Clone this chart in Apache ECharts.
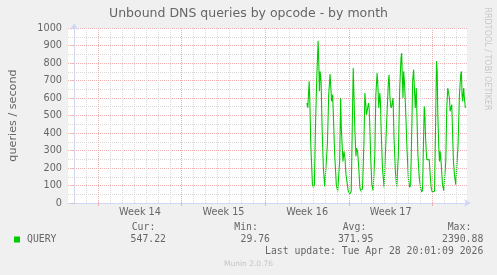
<!DOCTYPE html>
<html><head><meta charset="utf-8">
<script src="https://cdn.jsdelivr.net/npm/echarts@6/dist/echarts.min.js"></script>
<style>html,body{margin:0;padding:0;background:#f0f0f0}#c{width:497px;height:275px}</style>
</head><body><div id="c"></div>
<script>
// ---- data (x unit: days since 2026-03-27 00:00) ----
const titleText = 'Unbound DNS queries by opcode - by month';
const yAxisTitle = 'queries / second';
const seriesName = 'QUERY';
const axisStartDay = -0.525;   // left edge of the graph
const axisEndDay = 32.89;      // right edge of the graph
const dataStartDay = 19;       // 2026-04-15 00:00
const weekLabels = ['Week 14', 'Week 15', 'Week 16', 'Week 17'];
const weekCenterDays = [5.5, 12.5, 19.5, 26.5];
const weekStartDays = [2, 9, 16, 23, 30];
const hoursSinceApr15 = [11.4,13.4,16.1,17.4,19.4,22.7,24.7,26.7,28.7,31.4,34.1,35.4,36.7,38.1,40.1,42.1,44.7,47.4,49.4,52.7,55.4,58.1,60.1,61.4,63.4,64.7,67.4,70.7,73.4,75.4,77.4,79.4,80.7,82.7,84.1,86.1,88.1,90.1,94.7,98.1,100.7,102.7,104.7,106.1,108.1,110.1,111.4,113.4,115.4,118.1,120.7,123.4,126.1,128.1,129.4,131.4,133.4,135.4,136.7,138.1,140.1,142.1,144.7,148.1,150.1,152.7,154.1,156.1,158.1,159.4,160.7,163.4,166.7,171.4,175.4,176.7,178.7,180.7,182.7,184.7,186.7,189.4,192.1,195.4,198.1,200.7,202.1,203.4,204.7,206.1,208.1,210.1,212.7,215.4,218.1,220.1,222.7,224.1,226,229.4,231.4,232.7,234.7,237.4,240.1,242.1,244.1,245.4,247.4,248.7,250.1,251.4,252.7,254.1,255.4,257.4,259.4,261.4,263.4,266.1,268.1,270.1,272.1,273.4,274.7,276.7,278.1,279.4,280.7,282.1,284.1,286.7,288.7,290.7,292.7,294.7,296.7,298.1,299.4,301.4,302.7,304.1,306.1,308.1,310.7,312.7,315.4,318.1,320.7,322.1,323.4,324.7,326.7,328.1,330.1];
const queriesPerSecond = [571,545,695,590,333,105,90,105,428,714,927,810,638,752,695,428,200,95,86,333,619,737,638,581,619,505,276,105,67,76,238,600,428,314,238,295,257,162,67,53,67,428,771,619,410,267,314,295,220,86,67,86,333,629,619,505,495,571,543,428,238,105,70,276,619,743,676,543,629,581,428,200,90,428,695,733,590,543,562,600,371,181,90,276,657,829,857,714,600,752,667,524,314,143,90,105,470,700,762,543,657,505,276,143,86,63,76,276,552,505,371,295,248,248,257,248,162,86,63,57,67,428,810,752,505,314,238,295,257,200,105,70,76,238,543,657,667,600,524,524,562,428,238,162,105,114,333,619,733,752,619,581,657,600,543];
const statHeaders = ['Cur:', 'Min:', 'Avg:', 'Max:'];
const statValues = ['547.22', '29.76', '371.95', '2390.88'];
const lastUpdate = 'Last update: Tue Apr 28 20:01:09 2026';
const versionText = 'Munin 2.0.76';
const watermark = 'RRDTOOL / TOBI OETIKER';

// ---- styling ----
const FONT = '#666666';
const AXIS = '#CFD6F8';
const MAJOR = '#f0b0b0';
const MINOR = '#d8d8d8';
const LINE = '#00cc00';

const seriesData = hoursSinceApr15.map((h, i) => [dataStartDay + h / 24, queriesPerSecond[i]]);

// vertical grid lines: one per day, red on week starts
const vLines = [];
for (let d = Math.ceil(axisStartDay); d <= Math.floor(axisEndDay); d++) {
  const isWeek = weekStartDays.indexOf(d) >= 0;
  vLines.push({ xAxis: d, lineStyle: { color: isWeek ? MAJOR : MINOR, type: 'dotted', width: 1 } });
}

const statHeaderX = [131.7, 234.3, 342.7, 447.7];
const statValueRight = [166, 270, 373.3, 483.3];
const graphics = [];
statHeaders.forEach((t, i) => graphics.push({ type: 'text', x: statHeaderX[i], y: 227.7,
  style: { text: t, font: '9.8px "DejaVu Sans Mono"', fill: FONT, textAlign: 'left', textVerticalAlign: 'middle' } }));
statValues.forEach((t, i) => graphics.push({ type: 'text', x: statValueRight[i], y: 239.5,
  style: { text: t, font: '9.8px "DejaVu Sans Mono"', fill: FONT, textAlign: 'right', textVerticalAlign: 'middle' } }));
graphics.push({ type: 'text', x: 483.3, y: 251.7,
  style: { text: lastUpdate, font: '9.8px "DejaVu Sans Mono"', fill: FONT, textAlign: 'right', textVerticalAlign: 'middle' } });
graphics.push({ type: 'text', x: 224, y: 264,
  style: { text: versionText, font: '7.5px "DejaVu Sans"', fill: '#c4c4c4', textAlign: 'left', textVerticalAlign: 'middle' } });
graphics.push({ type: 'text', x: 487, y: 59, rotation: -Math.PI / 2,
  style: { text: watermark, font: '8px "DejaVu Sans"', fill: '#c8c8c8', textAlign: 'center', textVerticalAlign: 'middle' } });

const chart = echarts.init(document.getElementById('c'), null, { renderer: 'canvas' });
chart.setOption({
  backgroundColor: '#f0f0f0',
  animation: false,
  textStyle: { fontFamily: 'DejaVu Sans' },
  title: { text: titleText, left: 'center', top: 7, padding: 0,
    textStyle: { fontFamily: 'DejaVu Sans', fontSize: 12.5, fontWeight: 'normal', color: FONT } },
  grid: { left: 66, right: 30, top: 28, bottom: 72, show: true, backgroundColor: '#ffffff', borderWidth: 0 },
  legend: { data: [seriesName], left: 14, top: 234.5, padding: 0, icon: 'rect', itemWidth: 6, itemHeight: 6,
    textStyle: { fontFamily: 'DejaVu Sans Mono', fontSize: 9.8, color: FONT, lineHeight: 10, padding: [0, 0, 0, 2] } },
  xAxis: {
    type: 'value', min: axisStartDay, max: axisEndDay,
    axisLine: { show: true, lineStyle: { color: AXIS, width: 1 }, symbol: ['none', 'arrow'], symbolSize: [6, 7], symbolOffset: [0, 4] },
    axisTick: { show: true, customValues: weekStartDays, length: 3, lineStyle: { color: MAJOR } },
    axisLabel: { customValues: weekCenterDays, margin: 4, fontSize: 9.7, color: FONT, fontFamily: 'DejaVu Sans',
      formatter: v => weekLabels[weekCenterDays.indexOf(v)] || '' },
    splitLine: { show: false }
  },
  yAxis: {
    type: 'value', min: 0, max: 1000, interval: 100,
    name: yAxisTitle, nameLocation: 'middle', nameRotate: 90, nameGap: 49,
    nameTextStyle: { fontFamily: 'DejaVu Sans', fontSize: 11.2, color: FONT },
    axisLine: { show: true, lineStyle: { color: AXIS, width: 1 }, symbol: ['none', 'arrow'], symbolSize: [6, 7], symbolOffset: [0, 5] },
    axisTick: { show: true, length: 3, lineStyle: { color: MAJOR } },
    axisLabel: { margin: 6, fontSize: 9.7, color: FONT, fontFamily: 'DejaVu Sans', formatter: v => String(v) },
    splitLine: { show: true, lineStyle: { color: MAJOR, type: 'dotted', width: 1 } },
    minorTick: { show: false, splitNumber: 2 },
    minorSplitLine: { show: true, lineStyle: { color: MINOR, type: 'dotted', width: 1 } }
  },
  graphic: graphics,
  series: [
    { type: 'line', z: 1, data: [], silent: true,
      markLine: { silent: true, symbol: 'none', label: { show: false }, animation: false, data: vLines } },
    { name: seriesName, type: 'line', z: 3, data: seriesData, showSymbol: false, symbol: 'none',
      lineStyle: { color: LINE, width: 1.1 }, itemStyle: { color: LINE } }
  ]
});
</script></body></html>
